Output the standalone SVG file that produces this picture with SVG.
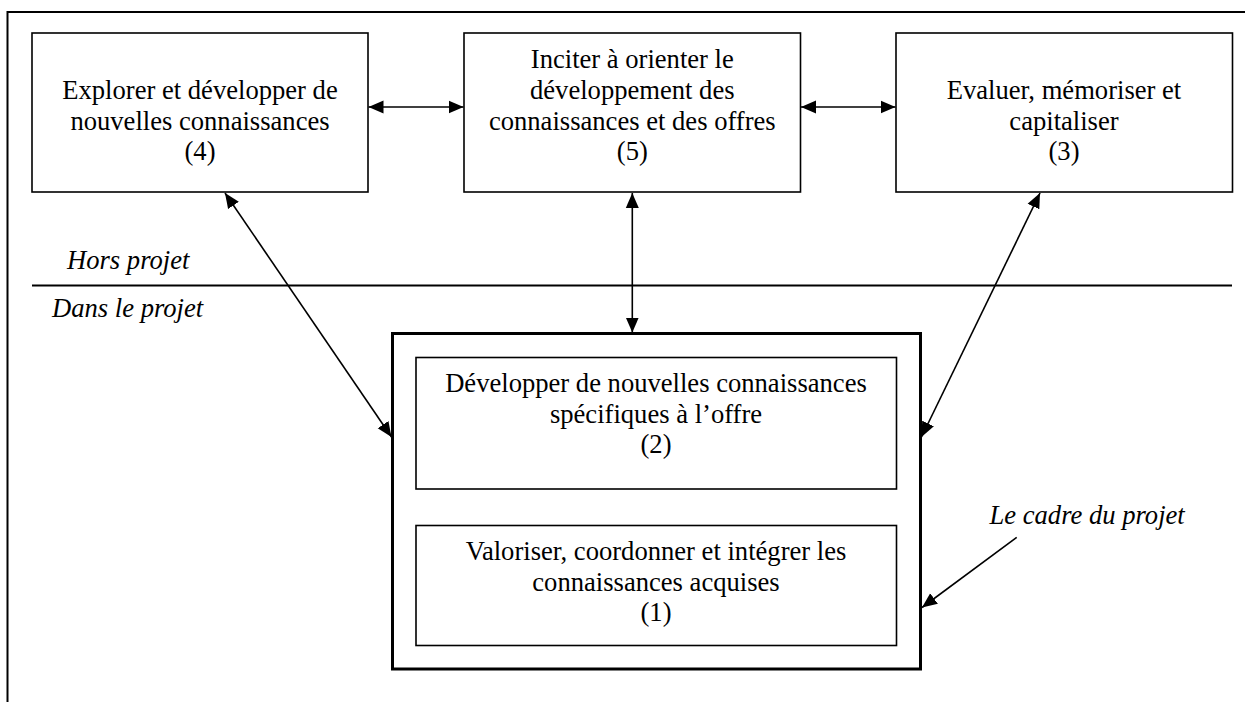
<svg xmlns="http://www.w3.org/2000/svg" width="1245" height="702" viewBox="0 0 1245 702">
<style>
.box{fill:#fff;stroke:#000;stroke-width:1.6}
.frame{fill:none;stroke:#000;stroke-width:3}
.t{font-family:"Liberation Serif","Times New Roman",serif;font-size:26.6px;fill:#000;text-anchor:middle}
.i{font-family:"Liberation Serif","Times New Roman",serif;font-size:26.6px;font-style:italic;fill:#000}
.c{stroke:#000;stroke-width:1.6;fill:none;marker-end:url(#ah)}
.cc{stroke:#000;stroke-width:1.6;fill:none;marker-start:url(#ah);marker-end:url(#ah)}
</style>
<defs>
<marker id="ah" markerUnits="userSpaceOnUse" markerWidth="16" markerHeight="14" refX="15" refY="6.5" orient="auto-start-reverse" viewBox="0 0 16 13">
<path d="M0,0 L15,6.5 L0,13 Z" fill="#000"/>
</marker>
</defs>
<rect width="1245" height="702" fill="#fff"/>
<g id="outer">
<path d="M7.5,702 V12 H1245" fill="none" stroke="#000" stroke-width="2"/>
</g>
<g id="separator">
<line x1="32" y1="285.5" x2="1232" y2="285.5" stroke="#000" stroke-width="2"/>
<text class="i" x="67" y="269">Hors projet</text>
<text class="i" x="52" y="317">Dans le projet</text>
</g>
<g id="n4">
<rect class="box" x="32" y="33" width="336" height="159"/>
<text class="t" x="200" y="99">Explorer et développer de</text>
<text class="t" x="200" y="129.5">nouvelles connaissances</text>
<text class="t" x="200" y="160">(4)</text>
</g>
<g id="n5">
<rect class="box" x="464" y="33" width="336.5" height="159"/>
<text class="t" x="632.3" y="68">Inciter à orienter le</text>
<text class="t" x="632.3" y="99">développement des</text>
<text class="t" x="632.3" y="129.5">connaissances et des offres</text>
<text class="t" x="632.3" y="160">(5)</text>
</g>
<g id="n3">
<rect class="box" x="896" y="33" width="336.5" height="159"/>
<text class="t" x="1064" y="99">Evaluer, mémoriser et</text>
<text class="t" x="1064" y="129.5">capitaliser</text>
<text class="t" x="1064" y="160">(3)</text>
</g>
<g id="cadre">
<rect class="frame" x="392.5" y="333.5" width="528" height="335.5"/>
<text class="i" x="989.5" y="523.5">Le cadre du projet</text>
</g>
<g id="n2">
<rect class="box" x="416" y="357.5" width="480.5" height="131.5"/>
<text class="t" x="656" y="392">Développer de nouvelles connaissances</text>
<text class="t" x="656" y="422.5">spécifiques à l’offre</text>
<text class="t" x="656" y="453">(2)</text>
</g>
<g id="n1">
<rect class="box" x="416" y="525.5" width="480.5" height="120"/>
<text class="t" x="656" y="560">Valoriser, coordonner et intégrer les</text>
<text class="t" x="656" y="590.5">connaissances acquises</text>
<text class="t" x="656" y="621">(1)</text>
</g>
<g id="connectors">
<line class="cc" x1="368.5" y1="107" x2="463.5" y2="107"/>
<line class="cc" x1="801" y1="107" x2="895.5" y2="107"/>
<line class="cc" x1="632.3" y1="193" x2="632.3" y2="332.5"/>
<line class="cc" x1="225" y1="193" x2="391.5" y2="437"/>
<line class="cc" x1="1040" y1="193" x2="921.5" y2="437"/>
<line class="c" x1="1016.7" y1="537.3" x2="922" y2="607.5"/>
</g>
</svg>
